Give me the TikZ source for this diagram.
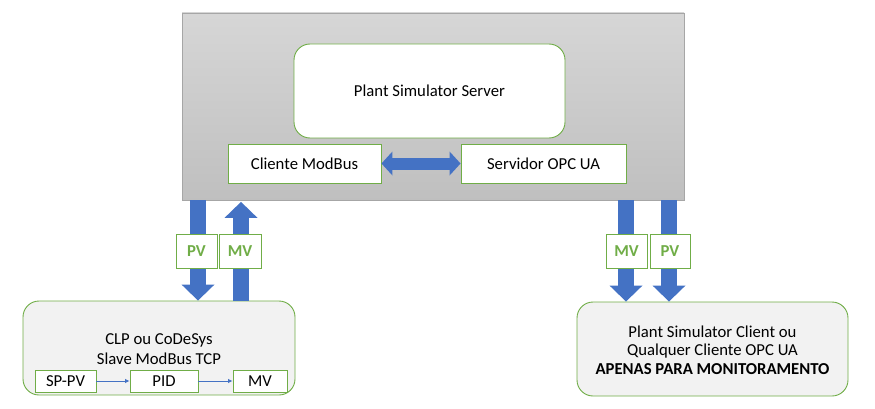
\documentclass[tikz,border=0pt]{standalone}
\usepackage{fontspec}
\setmainfont{Carlito}
\usetikzlibrary{arrows.meta,calc}
\definecolor{ogreen}{HTML}{70AD47}
\definecolor{oblue}{HTML}{4472C4}
\definecolor{lgray}{HTML}{F2F2F2}
\begin{document}
\begin{tikzpicture}[x=1pt,y=-1pt,
  font=\fontsize{16.7}{19}\selectfont,
  greenbox/.style={draw=ogreen,line width=0.9pt,fill=white,inner sep=0pt,anchor=center},
  roundbox/.style={greenbox,rounded corners=16pt},
  tagbox/.style={greenbox,minimum width=41pt,minimum height=34pt,text=ogreen,font=\fontsize{16.7}{19}\selectfont\bfseries},
  smallbox/.style={greenbox,minimum height=22pt},
  blockarrow/.style={oblue,line width=16pt,-{Triangle[width=33pt,length=16pt,line width=0pt]}},
  thinarrow/.style={oblue,line width=0.8pt,-{Latex[length=4.5pt,width=4.5pt]}},
  plain/.style={inner sep=0pt,align=center,anchor=center}]
\useasboundingbox (0,0) rectangle (875,409);

% server block
\node[draw=black!35,line width=0.8pt,top color=black!16,bottom color=black!25,inner sep=0pt,
      minimum width=502pt,minimum height=187pt] (gray) at (433,106.5) {};
\node[roundbox,minimum width=271pt,minimum height=94pt] (plant) at (429.5,91) {Plant Simulator Server};
\node[greenbox,minimum width=153pt,minimum height=39pt] (cliente) at (304.5,163.5) {Cliente ModBus};
\node[greenbox,minimum width=165pt,minimum height=39pt] (servidor) at (543.5,163.5) {Servidor OPC UA};
\draw[oblue,line width=12pt,{Triangle[width=24pt,length=11pt,line width=0pt]}-{Triangle[width=24pt,length=11pt,line width=0pt]}]
  (cliente.east) -- (servidor.west);

% bottom-left box
\node[roundbox,fill=lgray,minimum width=272pt,minimum height=94pt] (clp) at (159,348) {};
\node[plain,font=\fontsize{16.7}{20}\selectfont] (clptext) at (159,349) {CLP ou CoDeSys\\Slave ModBus TCP};
\node[smallbox,minimum width=61pt] (sppv) at (65.5,381) {SP-PV};
\node[smallbox,minimum width=68pt] (pid) at (164,381) {PID};
\node[smallbox,minimum width=54pt] (mvs) at (260,381) {MV};
\draw[thinarrow] (sppv) -- (pid);
\draw[thinarrow] (pid) -- (mvs);

% bottom-right box
\node[roundbox,fill=lgray,minimum width=271pt,minimum height=94pt] (mon) at (712.5,349) {};
\node[plain,font=\fontsize{16.7}{18.3}\selectfont] (montext) at (712.5,350)
  {Plant Simulator Client ou\\Qualquer Cliente OPC UA\\\textbf{APENAS PARA MONITORAMENTO}};

% arrow columns
\coordinate (xpvl) at (198,0);
\coordinate (xmvl) at (241,0);
\coordinate (xmvr) at (626,0);
\coordinate (xpvr) at (669,0);

\draw[blockarrow] (gray.south -| xpvl) -- (clp.north -| xpvl);
\draw[blockarrow,shorten >=1.5pt] (clp.north -| xmvl) -- (gray.south -| xmvl);
\draw[blockarrow] (gray.south -| xmvr) -- (mon.north -| xmvr);
\draw[blockarrow] (gray.south -| xpvr) -- (mon.north -| xpvr);

\node[tagbox] (pvl) at (196.5,251) {PV};
\node[tagbox,minimum width=42pt] (mvl) at (240,251) {MV};
\node[tagbox] (mvr) at (626.5,251) {MV};
\node[tagbox,minimum width=40pt] (pvr) at (670,251) {PV};
\end{tikzpicture}
\end{document}
